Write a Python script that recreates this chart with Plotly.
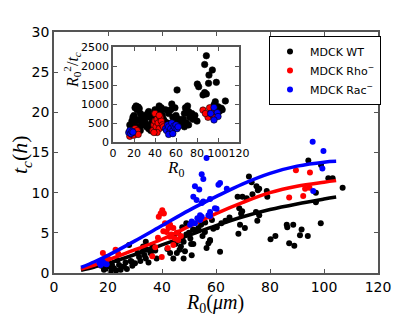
import plotly.graph_objects as go

# ---------------- main panel data: t_c (h) vs R0 (um) ----------------
wt_x = [18.5, 19.5, 20.4, 21.0, 21.5, 22.2, 23.0, 24.1, 24.7, 25.9, 26.5, 27.0, 28.4, 29.0, 30.0,
        17.5, 20.0, 23.5, 27.8, 28.8,
        31.5, 32.7, 34.5, 35.8, 34.0, 33.0, 34.0, 36.5, 32.0, 35.0, 37.5, 31.0, 33.5, 36.0, 38.0,
        43.0, 44.2, 45.5, 46.5, 47.0, 48.5, 45.0, 46.0, 47.5, 48.0, 49.0, 50.0, 50.5, 51.5, 46.0,
        47.5, 49.0, 50.8, 52.5, 44.5, 42.0, 53.5, 48.0, 51.0,
        52.8, 55.9, 57.8, 57.2, 56.5, 51.6, 61.5, 54.5, 56.0, 58.5, 60.3, 62.0, 59.0, 63.5, 55.0, 65.0,
        68.0, 69.8, 71.4, 73.5, 72.2, 73.2, 75.0, 76.0, 75.5, 78.8, 79.0, 68.6, 69.7, 69.3, 74.8,
        76.0, 75.3, 68.9, 70.7, 68.3, 80.2, 82.0, 87.1, 89.0, 86.2, 86.4, 88.6, 91.7, 91.1, 94.0,
        98.8, 97.0, 97.0, 101.6, 103.2, 106.9, 94.2, 98.9, 57.8]
wt_y = [0.4, 0.6, 0.8, 0.2, 1.0, 0.6, 0.3, 1.0, 0.4, 0.8, 1.3, 0.5, 1.5, 0.9, 1.2,
        0.9, 1.5, 1.6, 3.5, 1.4,
        2.0, 2.65, 2.9, 2.45, 1.8, 3.3, 3.9, 3.5, 1.5, 1.3, 2.8, 2.5, 2.2, 3.0, 1.8,
        2.5, 1.8, 2.5, 2.9, 3.3, 2.7, 3.6, 4.0, 4.4, 3.9, 4.8, 5.0, 4.3, 5.4, 5.0,
        5.7, 6.2, 3.6, 5.2, 4.5, 3.0, 5.6, 1.8, 2.2,
        5.35, 5.1, 4.0, 3.7, 3.1, 3.6, 2.65, 6.0, 6.3, 6.6, 5.7, 6.2, 5.5, 6.5, 4.6, 6.9,
        9.5, 9.5, 9.3, 9.8, 12.0, 11.3, 10.8, 10.5, 10.3, 10.2, 9.5, 8.05, 7.7, 7.4, 7.6,
        7.2, 6.5, 6.0, 5.6, 4.9, 4.2, 4.6, 3.7, 3.4, 6.0, 5.7, 6.0, 5.4, 4.7, 4.6,
        6.2, 8.8, 10.0, 11.8, 11.8, 10.6, 14.0, 13.45, 4.1]

rho_x = [18.1, 19.3, 18.8, 22.8, 23.8, 20.0, 36.4, 39.5, 40.1, 40.7, 38.8, 41.1, 43.0, 44.2,
         40.5, 41.7, 43.0, 44.8, 46.0, 44.2, 39.9, 42.1, 45.5, 47.0, 38.5, 37.5, 42.4, 43.5,
         57.8, 89.6, 94.8, 93.0, 94.6, 87.1, 92.3]
rho_y = [2.5, 2.0, 1.5, 2.9, 2.4, 1.8, 2.1, 7.4, 7.8, 7.4, 7.0, 6.2, 6.0, 5.6,
         5.2, 5.1, 4.5, 4.3, 4.1, 3.5, 2.0, 3.1, 5.0, 4.6, 4.4, 3.2, 5.6, 4.8,
         7.0, 12.8, 12.5, 10.5, 10.6, 9.4, 9.6]

rac_x = [17.0, 17.3, 18.5, 19.5, 18.0, 16.8,
         51.0, 52.2, 54.7, 54.1, 57.8, 59.6, 57.8, 53.1, 54.1, 50.4, 52.2, 53.8, 51.6, 52.8,
         55.3, 54.7, 56.5, 54.7, 55.3, 60.9, 61.5, 64.0, 57.8, 57.2, 60.2,
         95.8, 99.8, 99.4, 96.0]
rac_y = [1.2, 1.0, 1.2, 1.1, 1.4, 1.3,
         6.4, 6.2, 7.0, 7.2, 7.1, 8.05, 7.6, 6.8, 6.6, 6.0, 10.8, 10.4, 9.5, 9.1,
         8.9, 8.7, 14.3, 12.3, 11.7, 11.0, 11.2, 10.5, 9.2, 7.2, 8.0,
         16.35, 15.2, 13.0, 10.2]

# fitted curves
fit_x = [10, 15, 20, 30, 40, 50, 60, 70, 80, 90, 100, 104.5]
fit_wt = [0.35, 0.75, 1.2, 2.3, 3.5, 4.7, 5.9, 7.0, 7.9, 8.6, 9.2, 9.45]
fit_rho = [0.5, 1.0, 1.6, 2.9, 4.2, 5.8, 7.4, 8.8, 10.0, 10.8, 11.3, 11.5]
fit_rac = [0.7, 1.4, 2.2, 4.0, 5.9, 7.8, 9.5, 11.1, 12.4, 13.3, 13.8, 13.9]

# ---------------- inset data: R0^2/t_c vs R0 ----------------
in_wt_x = [16, 17, 18, 19, 20, 21, 22, 23, 24, 25, 20, 22, 23, 25, 26, 27, 28, 18, 21, 24, 26, 29, 30, 19, 22,
           31, 32, 33, 34, 35, 36, 37, 38, 39, 40, 41, 44, 45, 46, 47, 48, 49, 42, 43, 36, 34, 50, 47,
           52, 53, 55, 56, 57, 58, 59, 60, 61, 62, 63, 54, 66, 67, 68, 69, 70, 71, 72, 73, 74, 75, 76,
           70, 68, 72, 64, 78, 80,
           88.9, 87.3, 94.6, 91.4, 98.4, 80.3, 81.6, 87.3, 88.9, 85.7, 91.0, 107, 97.4, 100, 103.1,
           96.2, 101, 104]
in_wt_y = [450, 350, 550, 500, 700, 900, 950, 850, 920, 880, 600, 400, 300, 600, 750, 500, 450, 400, 250, 350,
           300, 700, 600, 650, 550,
           500, 400, 750, 800, 650, 450, 500, 600, 700, 850, 550, 950, 800, 900, 700, 600, 550, 350, 650,
           300, 350, 850, 450,
           500, 750, 850, 1000, 650, 500, 900, 700, 1370, 550, 600, 450, 550, 600, 750, 900, 850, 950,
           800, 650, 700, 750, 600, 500, 400, 450, 450, 700, 550,
           2270, 2040, 1895, 1760, 1570, 1525, 1455, 1300, 1265, 1240, 1545, 1080, 1060, 930, 890,
           975, 800, 850]

in_rho_x = [16, 17, 18, 19, 20, 21, 22, 23, 24, 38, 39, 40, 40, 41, 42, 43, 44, 45, 46, 47, 42, 44, 39, 48,
            85.7, 90.5, 93.6, 95.2, 88, 92]
in_rho_y = [150, 250, 200, 300, 180, 350, 250, 300, 200, 300, 450, 750, 550, 400, 600, 500, 350, 650, 550,
            450, 250, 700, 250, 400,
            840, 650, 800, 710, 750, 900]

in_rac_x = [15, 16, 17, 18, 19, 50, 51, 52, 53, 54, 55, 56, 57, 58, 59, 60, 61, 62, 53, 57,
            96.2, 99.3, 100, 96.2, 93]
in_rac_y = [250, 300, 220, 280, 260, 350, 300, 450, 400, 250, 350, 500, 300, 420, 380, 450, 350, 400,
            200, 220,
            910, 770, 670, 580, 750]

BLACK, RED, BLUE = "#000000", "#ff0000", "#0000ff"
TICKFONT = "DejaVu Sans"
MATHFONT = "Liberation Serif"

fig = go.Figure()

# main panel
for xs, ys, fx, fy, col, name in [
    (wt_x, wt_y, fit_x, fit_wt, BLACK, "MDCK WT"),
    (rho_x, rho_y, fit_x, fit_rho, RED, "MDCK Rho<sup>−</sup>"),
    (rac_x, rac_y, fit_x, fit_rac, BLUE, "MDCK Rac<sup>−</sup>"),
]:
    fig.add_trace(go.Scatter(x=xs, y=ys, mode="markers", name=name,
                             marker=dict(color=col, size=6, line=dict(width=0)),
                             xaxis="x", yaxis="y"))
    fig.add_trace(go.Scatter(x=fx, y=fy, mode="lines", showlegend=False,
                             line=dict(color=col, width=3.5, shape="spline"),
                             xaxis="x", yaxis="y"))

# inset panel
for xs, ys, col in [(in_wt_x, in_wt_y, BLACK), (in_rho_x, in_rho_y, RED), (in_rac_x, in_rac_y, BLUE)]:
    fig.add_trace(go.Scatter(x=xs, y=ys, mode="markers", showlegend=False,
                             marker=dict(color=col, size=6.5, line=dict(width=0.6, color="black")),
                             xaxis="x2", yaxis="y2"))

axis_common = dict(showgrid=False, zeroline=False, showline=True, linecolor="#555555",
                   linewidth=1.5, mirror="ticks", ticks="inside", ticklen=4,
                   tickcolor="#555555", tickwidth=1, automargin=False, tickangle=0)

fig.update_layout(
    width=420, height=315,
    margin=dict(l=0, r=0, t=0, b=0, autoexpand=False),
    paper_bgcolor="white", plot_bgcolor="white",
    showlegend=True,
    xaxis=dict(domain=[54/420, 378/420], range=[0, 120], tickvals=[0, 20, 40, 60, 80, 100, 120],
               tickfont=dict(family=TICKFONT, size=14, color="black"), anchor="y", **axis_common),
    yaxis=dict(domain=[42/315, 283/315], range=[0, 30], tickvals=[0, 5, 10, 15, 20, 25, 30],
               tickfont=dict(family=TICKFONT, size=14, color="black"), anchor="x", **axis_common),
    xaxis2=dict(domain=[113/420, 239/420], range=[0, 120], tickvals=[0, 20, 40, 60, 80, 100, 120],
                tickfont=dict(family=TICKFONT, size=11, color="black"), anchor="y2", **axis_common),
    yaxis2=dict(domain=[173/315, 268/315], range=[0, 2500], tickvals=[0, 500, 1000, 1500, 2000, 2500],
                tickfont=dict(family=TICKFONT, size=11, color="black"), anchor="x2", **axis_common),
    legend=dict(x=269/420, y=1 - 36/315, xanchor="left", yanchor="top",
                bgcolor="white", bordercolor="black", borderwidth=1,
                font=dict(family=TICKFONT, size=11, color="black"),
                tracegroupgap=0),
    annotations=[
        dict(text="<i>R</i><sub>0</sub>(<i>μm</i>)", x=215/420, y=1 - 303/315, xref="paper", yref="paper",
             xanchor="center", yanchor="middle",
             showarrow=False, font=dict(family=MATHFONT, size=20, color="black")),
        dict(text="<i>t</i><sub><i>c</i></sub>(<i>h</i>)", x=21/420, y=1 - 155/315, xref="paper", yref="paper",
             xanchor="center", yanchor="middle",
             textangle=-90, showarrow=False, font=dict(family=MATHFONT, size=22, color="black")),
        dict(text="<i>R</i><sub>0</sub>", x=175/420, y=1 - 169/315, xref="paper", yref="paper",
             xanchor="center", yanchor="middle",
             showarrow=False, font=dict(family=MATHFONT, size=17, color="black")),
        dict(text="<i>R</i><sub>0</sub><sup>2</sup>/<i>t</i><sub><i>c</i></sub>", x=72/420, y=1 - 70/315,
             xref="paper", yref="paper", textangle=-90, showarrow=False,
             xanchor="center", yanchor="middle",
             font=dict(family=MATHFONT, size=16, color="black")),
    ],
)

fig.write_html("out.html", config={"displayModeBar": False},
               post_script="document.body.style.margin='0px';")
